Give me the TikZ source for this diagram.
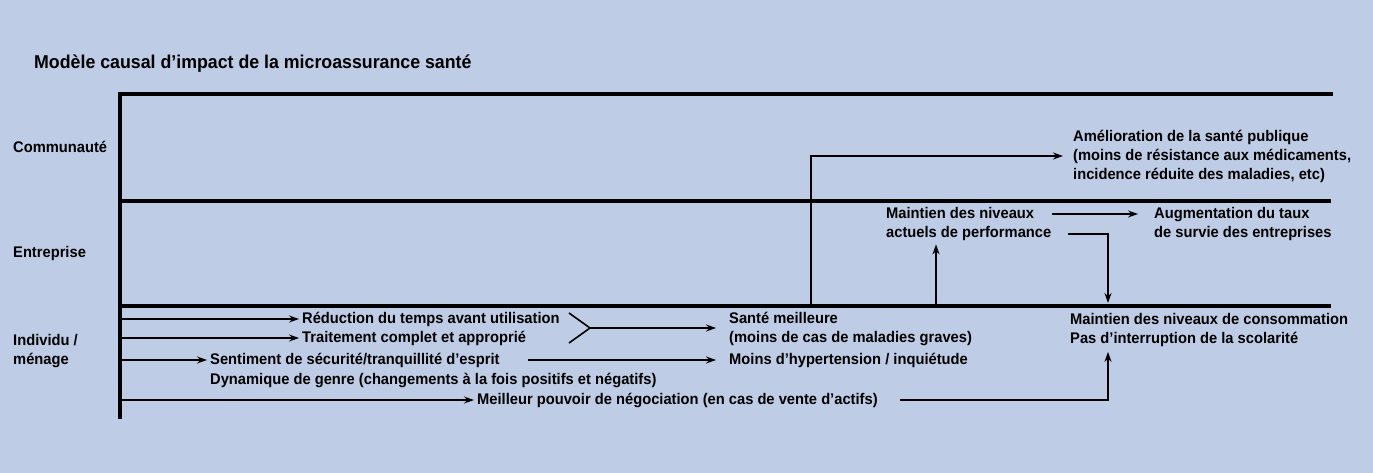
\documentclass[tikz,border=0pt]{standalone}
\usepackage{fontspec}
\setmainfont{Liberation Sans}[FakeStretch=0.955]
\usetikzlibrary{arrows.meta}
\definecolor{bg}{RGB}{190,204,230}
\begin{document}
\begin{tikzpicture}[x=1pt,y=-1pt,
  txt/.style={font=\bfseries\fontsize{15.4}{19}\selectfont, inner sep=0pt, anchor=west, align=left},
  ttl/.style={font=\bfseries\fontsize{18.6}{20}\selectfont, inner sep=0pt, anchor=base west},
  band/.style={line width=3.5pt},
  ln/.style={line width=1.6pt},
  conn/.style={line width=1.6pt, -{Stealth[length=10pt,width=7pt]}}]
\fill[bg] (0,0) rectangle (1373,473);
\useasboundingbox (0,0) rectangle (1373,473);

% title and band labels
\node[ttl] (title) at (34,69) {Modèle causal d’impact de la microassurance santé};
\node[txt] (comm) at (13,147) {Communauté};
\node[txt] (entr) at (13,254) {Entreprise};
\node[txt] (indiv) at (13,351) {Individu /\\ménage};

% axis and bands
\coordinate (axT) at (120,94);
\coordinate (axB) at (120,417);
\coordinate (b1R) at (1331,94);
\coordinate (b2L) at (120,201);
\coordinate (b2R) at (1331,201);
\coordinate (b3L) at (120,306);
\coordinate (b3R) at (1331,306);
\draw[band, line cap=rect] (axB) -- (axT) -- (b1R);
\draw[band] (b2L) -- (b2R);
\draw[band] (b3L) -- (b3R);

% individual level texts
\node[txt] (r1) at (302,319) {Réduction du temps avant utilisation};
\node[txt] (r2) at (302,338) {Traitement complet et approprié};
\node[txt] (r3) at (210,360) {Sentiment de sécurité/tranquillité d’esprit};
\node[txt] (r4) at (210,380) {Dynamique de genre (changements à la fois positifs et négatifs)};
\node[txt] (r5) at (477,400) {Meilleur pouvoir de négociation (en cas de vente d’actifs)};

\coordinate (a1) at (120,319);
\coordinate (a2) at (120,338);
\coordinate (a3) at (120,360);
\coordinate (a5) at (120,400);
\draw[conn] (a1) -- ([xshift=-3pt]r1.west);
\draw[conn] (a2) -- ([xshift=-3pt]r2.west);
\draw[conn] (a3) -- ([xshift=-3pt]r3.west);
\draw[conn] (a5) -- ([xshift=-3pt]r5.west);

% merge
\coordinate (m1) at (569,313);
\coordinate (m2) at (569,343);
\coordinate (mj) at (590,328);
\draw[ln] (m1) -- (mj) -- (m2);

\node[txt] (sante) at (729,329) {Santé meilleure\\(moins de cas de maladies graves)};
\node[txt] (hyper) at (729,360) {Moins d’hypertension / inquiétude};
\draw[conn] (mj) -- ([xshift=-13pt,yshift=1pt]sante.west);
\coordinate (h0) at (528,360);
\draw[conn] (h0) -- ([xshift=-13pt]hyper.west);

% community
\node[txt] (pub) at (1073,156) {Amélioration de la santé publique\\(moins de résistance aux médicaments,\\incidence réduite des maladies, etc)};
\coordinate (v0) at (811,306);
\coordinate (v1) at (811,156);
\draw[conn] (v0) -- (v1) -- ([xshift=-10pt]pub.west);

% enterprise
\node[txt] (perf) at (886,224.5) {Maintien des niveaux\\actuels de performance};
\node[txt] (surv) at (1154,224.5) {Augmentation du taux\\de survie des entreprises};
\coordinate (p0) at (936,306);
\coordinate (pt) at ([yshift=-3pt]perf.south);
\draw[conn] (p0) -- (p0 |- pt);
\coordinate (s0) at (1052,214);
\draw[conn] (s0) -- ([xshift=-16pt,yshift=10.5pt]surv.west);

% consumption
\node[txt] (cons) at (1070,330) {Maintien des niveaux de consommation\\Pas d’interruption de la scolarité};
\coordinate (c0) at (1068,234);
\coordinate (c1) at (1108,234);
\coordinate (c2) at (1108,303);
\draw[conn] (c0) -- (c1) -- (c2);
\coordinate (n0) at (900,400);
\coordinate (n1) at (1108,400);
\coordinate (ct) at ([yshift=-5pt]cons.south);
\draw[conn] (n0) -- (n1) -- (n1 |- ct);
\end{tikzpicture}
\end{document}
